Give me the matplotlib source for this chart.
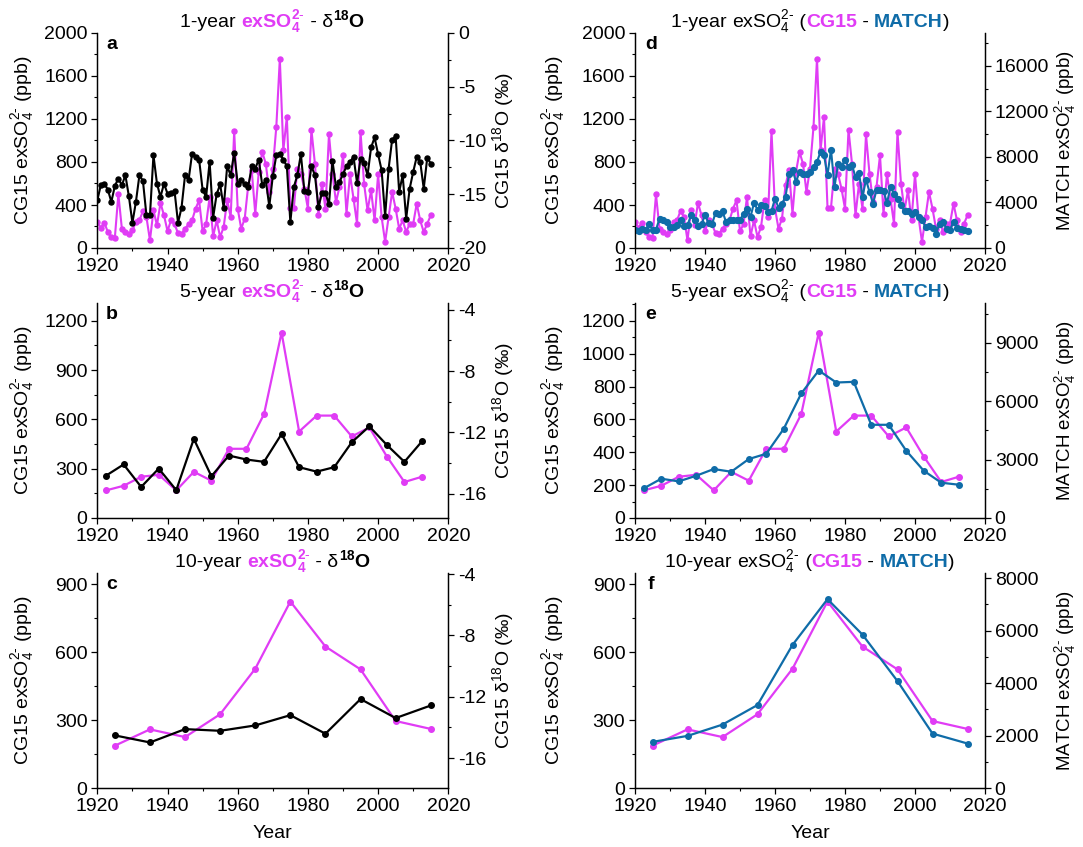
import matplotlib
matplotlib.use('Agg')
import matplotlib.pyplot as plt
from matplotlib.ticker import MultipleLocator
from matplotlib.offsetbox import TextArea, HPacker, AnnotationBbox

plt.rcParams['font.family'] = ['Liberation Sans', 'DejaVu Sans']
plt.rcParams['mathtext.fontset'] = 'custom'
plt.rcParams['mathtext.rm'] = 'Liberation Sans'
plt.rcParams['mathtext.it'] = 'Liberation Sans:italic'
plt.rcParams['mathtext.bf'] = 'Liberation Sans:bold'
plt.rcParams['axes.unicode_minus'] = False
plt.rcParams['font.size'] = 14

MAG = '#E03CF5'
BLU = '#0F6CA8'

# ---------------- data ----------------
years_1 = list(range(1920, 2016))
cg15_1yr = [242, 189, 236, 149, 102, 96, 499, 180, 149, 127,
            164, 242, 257, 344, 288, 71, 350, 211, 419, 304,
            158, 257, 220, 140, 133, 180, 220, 257, 366, 443,
            158, 220, 474, 109, 257, 102, 195, 443, 288, 1088,
            366, 180, 273, 583, 722, 319, 707, 893, 784, 521,
            738, 1126, 1761, 908, 1219, 375, 375, 738, 691, 552,
            366, 1101, 784, 304, 598, 366, 1057, 691, 428, 567,
            862, 319, 685, 459, 226, 1079, 598, 350, 536, 257,
            685, 288, 56, 288, 521, 366, 180, 257, 149, 226,
            226, 412, 257, 149, 226, 304]
d18o_1yr = [-15.56, -14.16, -14.01, -14.57, -15.71, -14.22, -13.54, -14.16, -13.23, -15.19,
            -17.67, -15.71, -13.23, -13.76, -16.96, -16.96, -11.37, -14.01, -15.25, -14.01,
            -14.94, -14.88, -14.69, -17.67, -16.24, -13.23, -13.70, -11.21, -11.52, -11.77,
            -14.57, -15.25, -11.99, -17.17, -15.00, -14.07, -16.24, -12.39, -13.23, -11.15,
            -14.01, -13.70, -14.07, -14.32, -12.39, -12.61, -11.77, -14.16, -13.70, -16.12,
            -13.32, -11.37, -11.21, -11.77, -12.39, -17.58, -14.32, -13.23, -11.27, -14.69,
            -14.78, -12.39, -13.23, -16.18, -14.88, -14.88, -15.93, -11.89, -14.32, -13.85,
            -13.14, -12.39, -11.99, -11.52, -13.94, -11.68, -12.08, -13.23, -10.65, -9.72,
            -11.27, -12.76, -17.05, -12.61, -9.91, -9.60, -14.78, -13.23, -17.27, -14.47,
            -12.92, -11.52, -11.99, -14.47, -11.61, -12.14]
match_1yr = [1556, 1497, 1702, 1614, 2084, 1614, 1614, 2583, 2436, 2289,
             1849, 1849, 1996, 2495, 1908, 1996, 2876, 2436, 1908, 2084,
             2876, 2201, 2084, 3082, 3023, 3229, 2289, 2436, 2436, 2436,
             2436, 3023, 3463, 2730, 3962, 3375, 3757, 3669, 3170, 3258,
             4344, 3551, 3904, 4491, 6486, 6897, 5811, 6692, 6486, 6486,
             6692, 7132, 7572, 8453, 8159, 6398, 8658, 5371, 7367, 7132,
             7778, 7132, 7279, 6252, 6604, 4491, 6017, 4931, 3904, 5078,
             5136, 5019, 3962, 5371, 4784, 4344, 3757, 3258, 3258, 2964,
             3170, 2730, 2495, 1849, 1908, 1790, 1262, 2143, 2289, 1702,
             1614, 2289, 1790, 1702, 1556, 1497]

years_5 = [1922.5, 1927.5, 1932.5, 1937.5, 1942.5, 1947.5, 1952.5, 1957.5, 1962.5, 1967.5,
           1972.5, 1977.5, 1982.5, 1987.5, 1992.5, 1997.5, 2002.5, 2007.5, 2012.5]
cg15_5yr = [168, 196, 251, 263, 168, 281, 227, 421, 421, 632,
            1128, 526, 623, 623, 496, 551, 374, 219, 251]
d18o_5yr = [-14.83, -14.10, -15.57, -14.37, -15.78, -12.43, -14.87, -13.52, -13.78, -13.93,
            -12.11, -14.28, -14.57, -14.28, -12.65, -11.61, -12.83, -13.93, -12.59]
match_5yr = [1521, 2017, 1880, 2171, 2513, 2376, 3026, 3299, 4581, 6393,
             7573, 6957, 6991, 4786, 4786, 3453, 2427, 1812, 1709]

years_10 = [1925, 1935, 1945, 1955, 1965, 1975, 1985, 1995, 2005, 2015]
cg15_10yr = [187, 259, 225, 326, 527, 824, 625, 524, 296, 261]
d18o_10yr = [-14.52, -14.98, -14.11, -14.22, -13.87, -13.20, -14.41, -12.15, -13.39, -12.57]
match_10yr = [1759, 1987, 2418, 3165, 5456, 7203, 5848, 4076, 2076, 1696]

# ---------------- layout ----------------
W, H = 1083, 847
fig = plt.figure(figsize=(W / 100, H / 100), dpi=100)

def frac(x0, top, w, h):
    return [x0 / W, (H - top - h) / H, w / W, h / H]

col_x = [97.3, 635.0]
col_w = [351.0, 350.0]
row_top = [33.0, 303.0, 573.0]
row_h = 215.0

SUP = r'_4^{2\text{-}}'
LBL = r'CG15 exSO$' + SUP + r'$ (ppb)'
RLBL_D = r'CG15 δ$^{18}$O (‰)'
RLBL_M = r'MATCH exSO$' + SUP + r'$ (ppb)'


def style_axis(ax, twin):
    ax.spines['top'].set_visible(False)
    twin.spines['top'].set_visible(False)
    for a in (ax, twin):
        for s in a.spines.values():
            s.set_linewidth(0.9)
    ax.set_xlim(1920, 2020)
    ax.xaxis.set_major_locator(MultipleLocator(20))
    ax.xaxis.set_minor_locator(MultipleLocator(10))
    for a in (ax, twin):
        a.tick_params(which='major', direction='out', length=4, width=0.9, labelsize=14, pad=3)
        a.tick_params(which='minor', direction='out', length=2.5, width=0.8)


def title(ax, parts, dy=8):
    boxes = [TextArea(t, textprops=dict(color=c, fontweight=w, fontsize=14)) for t, c, w in parts]
    pk = HPacker(children=boxes, align='baseline', pad=0, sep=0)
    ab = AnnotationBbox(pk, (0.5, 1.0), xycoords='axes fraction', xybox=(0, dy),
                        boxcoords='offset points', box_alignment=(0.5, 0.5),
                        frameon=False, annotation_clip=False, zorder=10)
    ax.add_artist(ab)


def letter(ax, s, x=0.04):
    ax.text(x, 0.985, s, transform=ax.transAxes, fontsize=14, fontweight='bold',
            va='top', ha='center')


# left column: CG15 vs d18O
left_specs = [
    ('a', years_1, cg15_1yr, d18o_1yr, (0, 2000), 400, 200, (-20, 0), 5, 2.5, '1-year', 3.6, 1.5),
    ('b', years_5, cg15_5yr, d18o_5yr, (0, 1308), 300, 150, (-17.6, -3.55), 4, 2, '5-year', 4, 1.6),
    ('c', years_10, cg15_10yr, d18o_10yr, (0, 950), 300, 150, (-17.95, -3.93), 4, 2, '10-year', 4, 1.6),
]
right_specs = [
    ('d', years_1, cg15_1yr, match_1yr, (0, 2000), 400, 200, (0, 18900), 4000, 2000, '1-year', 3.6, 1.5),
    ('e', years_5, cg15_5yr, match_5yr, (0, 1308), 200, 100, (0, 11040), 3000, 1500, '5-year', 4, 1.6),
    ('f', years_10, cg15_10yr, match_10yr, (0, 950), 300, 150, (0, 8200), 2000, 1000, '10-year', 4, 1.6),
]

for i, spec in enumerate(left_specs):
    (let, yrs, cg, other, ylim, maj, mnr, rlim, rmaj, rmnr, lab, ms, lw) = spec
    ax = fig.add_axes(frac(col_x[0], row_top[i], col_w[0], row_h))
    tw = ax.twinx()
    ax.plot(yrs, cg, color=MAG, lw=lw, marker='o', ms=ms, mec=MAG, mfc=MAG)
    tw.plot(yrs, other, color='black', lw=lw, marker='o', ms=ms, mec='black', mfc='black')
    ax.set_ylim(*ylim)
    ax.yaxis.set_major_locator(MultipleLocator(maj))
    ax.yaxis.set_minor_locator(MultipleLocator(mnr))
    tw.set_ylim(*rlim)
    tw.yaxis.set_major_locator(MultipleLocator(rmaj))
    tw.yaxis.set_minor_locator(MultipleLocator(rmnr))
    style_axis(ax, tw)
    ax.set_ylabel(LBL, fontsize=14)
    ax.yaxis.set_label_coords(-0.175, 0.5)
    tw.set_ylabel(RLBL_D, fontsize=14)
    tw.yaxis.set_label_coords(1.12, 0.5)
    letter(ax, let)
    title(ax, [(lab + ' ', 'black', 'normal'),
               (r'$\mathbf{exSO_4^{2\text{-}}}$', MAG, 'bold'),
               (' - δ', 'black', 'normal'),
               (r'$\mathbf{^{18}O}$', 'black', 'bold')])
    if i == 2:
        ax.set_xlabel('Year', fontsize=14)
        ax.xaxis.set_label_coords(0.5, -0.17)

for i, spec in enumerate(right_specs):
    (let, yrs, cg, other, ylim, maj, mnr, rlim, rmaj, rmnr, lab, ms, lw) = spec
    ax = fig.add_axes(frac(col_x[1], row_top[i], col_w[1], row_h))
    tw = ax.twinx()
    ax.plot(yrs, cg, color=MAG, lw=lw, marker='o', ms=ms, mec=MAG, mfc=MAG)
    bms = ms + 0.6 if i == 0 else ms
    tw.plot(yrs, other, color=BLU, lw=lw, marker='o', ms=bms, mec=BLU, mfc=BLU)
    ax.set_ylim(*ylim)
    ax.yaxis.set_major_locator(MultipleLocator(maj))
    ax.yaxis.set_minor_locator(MultipleLocator(mnr))
    tw.set_ylim(*rlim)
    tw.yaxis.set_major_locator(MultipleLocator(rmaj))
    tw.yaxis.set_minor_locator(MultipleLocator(rmnr))
    style_axis(ax, tw)
    ax.set_ylabel(LBL, fontsize=14)
    ax.yaxis.set_label_coords(-0.195, 0.5)
    tw.set_ylabel(RLBL_M, fontsize=13.5)
    tw.yaxis.set_label_coords(1.195, 0.5)
    letter(ax, let, x=0.045)
    title(ax, [(lab + ' ', 'black', 'normal'),
               (r'$\mathregular{exSO_4^{2\text{-}}}$', 'black', 'normal'),
               (' (', 'black', 'normal'),
               ('CG15', MAG, 'bold'),
               (' - ', 'black', 'normal'),
               ('MATCH', BLU, 'bold'),
               (')', 'black', 'normal')])
    if i == 2:
        ax.set_xlabel('Year', fontsize=14)
        ax.xaxis.set_label_coords(0.5, -0.17)

fig.savefig('out.png', dpi=100)
